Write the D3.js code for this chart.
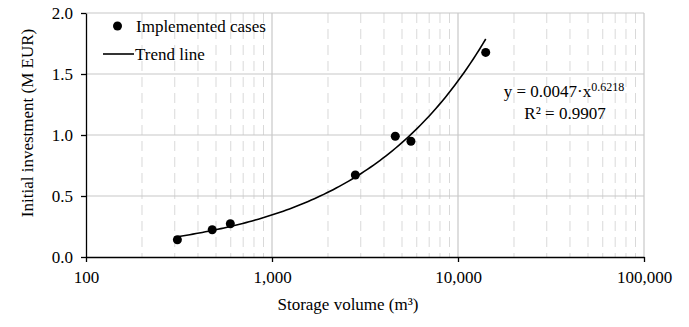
<!DOCTYPE html>
<html>
<head>
<meta charset="utf-8">
<script src="https://cdn.jsdelivr.net/npm/d3@7"></script>
<style>
  body { margin: 0; background: #fff; }
</style>
</head>
<body>
<script>
// data
var volumes = [310, 477, 597, 2806, 4600, 5585, 14090];
var investments = [0.141, 0.223, 0.273, 0.672, 0.99, 0.949, 1.677];
var yTicks = [0, 0.5, 1.0, 1.5, 2.0];
var xTicks = [100, 1000, 10000, 100000];
// trend line: y = a * x^b (taken from the chart's own label)
var trendA = 0.0047;
var trendB = 0.6218;
var trendRange = [298, 14100];

var width = 689;
var height = 327;
var margin = {left: 86, right: 45, top: 13, bottom: 70};
var serif = "Liberation Serif";

var xScale = d3.scaleLog()
  .domain([100, 100000])
  .range([margin.left, width - margin.right]);

var yScale = d3.scaleLinear()
  .domain([0, 2])
  .range([height - margin.bottom, margin.top]);

var svg = d3.select("body")
  .append("svg")
  .attr("width", width)
  .attr("height", height)
  .attr("font-family", serif);

// minor dashed vertical grid
var minor = [];
[100, 1000, 10000].forEach(function(d) {
  for (var k = 2; k <= 9; k++) minor.push(d * k);
});
svg.append("g")
  .selectAll("line")
  .data(minor)
  .enter()
  .append("line")
  .attr("x1", function(d) { return xScale(d); })
  .attr("x2", function(d) { return xScale(d); })
  .attr("y1", yScale(2))
  .attr("y2", yScale(0))
  .attr("stroke", "#d9d9d9")
  .attr("stroke-width", 1)
  .attr("stroke-dasharray", "10,6");

// major grid
svg.append("g")
  .selectAll("line")
  .data(xTicks.slice(1))
  .enter()
  .append("line")
  .attr("x1", function(d) { return xScale(d); })
  .attr("x2", function(d) { return xScale(d); })
  .attr("y1", yScale(2))
  .attr("y2", yScale(0))
  .attr("stroke", "#c8c8c8")
  .attr("stroke-width", 1.2);

svg.append("g")
  .selectAll("line")
  .data(yTicks.slice(1))
  .enter()
  .append("line")
  .attr("x1", xScale(100))
  .attr("x2", xScale(100000))
  .attr("y1", function(d) { return yScale(d); })
  .attr("y2", function(d) { return yScale(d); })
  .attr("stroke", "#c8c8c8")
  .attr("stroke-width", 1.2);

// axes
var xAxis = d3.axisBottom(xScale)
  .tickValues(xTicks)
  .tickFormat(d3.format(","))
  .tickSizeInner(5)
  .tickSizeOuter(0)
  .tickPadding(9);

var yAxis = d3.axisLeft(yScale)
  .tickValues(yTicks)
  .tickFormat(d3.format(".1f"))
  .tickSizeInner(5)
  .tickSizeOuter(0)
  .tickPadding(8);

var gx = svg.append("g")
  .attr("transform", "translate(0," + yScale(0) + ")")
  .call(xAxis);
var gy = svg.append("g")
  .attr("transform", "translate(" + xScale(100) + ",0)")
  .call(yAxis);

[gx, gy].forEach(function(g) {
  g.attr("font-family", serif).attr("font-size", 17);
  g.selectAll("path, line").attr("stroke", "#000").attr("stroke-width", 1.3);
  g.selectAll("text").attr("fill", "#000").attr("font-family", serif);
});

// trend line
var trendPts = d3.range(0, 101).map(function(i) {
  var lx = Math.log10(trendRange[0]) + i / 100 * (Math.log10(trendRange[1]) - Math.log10(trendRange[0]));
  var x = Math.pow(10, lx);
  return [x, trendA * Math.pow(x, trendB)];
});
svg.append("path")
  .datum(trendPts)
  .attr("fill", "none")
  .attr("stroke", "#000")
  .attr("stroke-width", 1.6)
  .attr("d", d3.line()
    .x(function(d) { return xScale(d[0]); })
    .y(function(d) { return yScale(d[1]); }));

// points
svg.append("g")
  .selectAll("circle")
  .data(volumes)
  .enter()
  .append("circle")
  .attr("cx", function(d) { return xScale(d); })
  .attr("cy", function(d, i) { return yScale(investments[i]); })
  .attr("r", 4.5)
  .attr("fill", "#000");

function label(x, y, s, anchor) {
  return svg.append("text")
    .attr("x", x)
    .attr("y", y)
    .attr("text-anchor", anchor || "start")
    .attr("font-family", serif)
    .attr("font-size", 17)
    .attr("fill", "#000")
    .text(s);
}

// legend
svg.append("circle").attr("cx", 117.5).attr("cy", 26).attr("r", 4.5).attr("fill", "#000");
label(136, 32, "Implemented cases");
svg.append("line").attr("x1", 103).attr("x2", 134).attr("y1", 54).attr("y2", 54)
  .attr("stroke", "#000").attr("stroke-width", 1.6);
label(135, 60, "Trend line");

// equation
var eq = label(564, 97, "", "middle");
eq.append("tspan").text("y = " + trendA + "·x");
eq.append("tspan").attr("dy", -6).attr("font-size", 12).text(trendB);
label(565, 119, "R² = 0.9907", "middle");

// axis titles
label(348, 310, "Storage volume (m³)", "middle");
label(0, 0, "Initial investment (M EUR)", "middle")
  .attr("transform", "translate(33,123) rotate(-90)");
</script>
</body>
</html>
